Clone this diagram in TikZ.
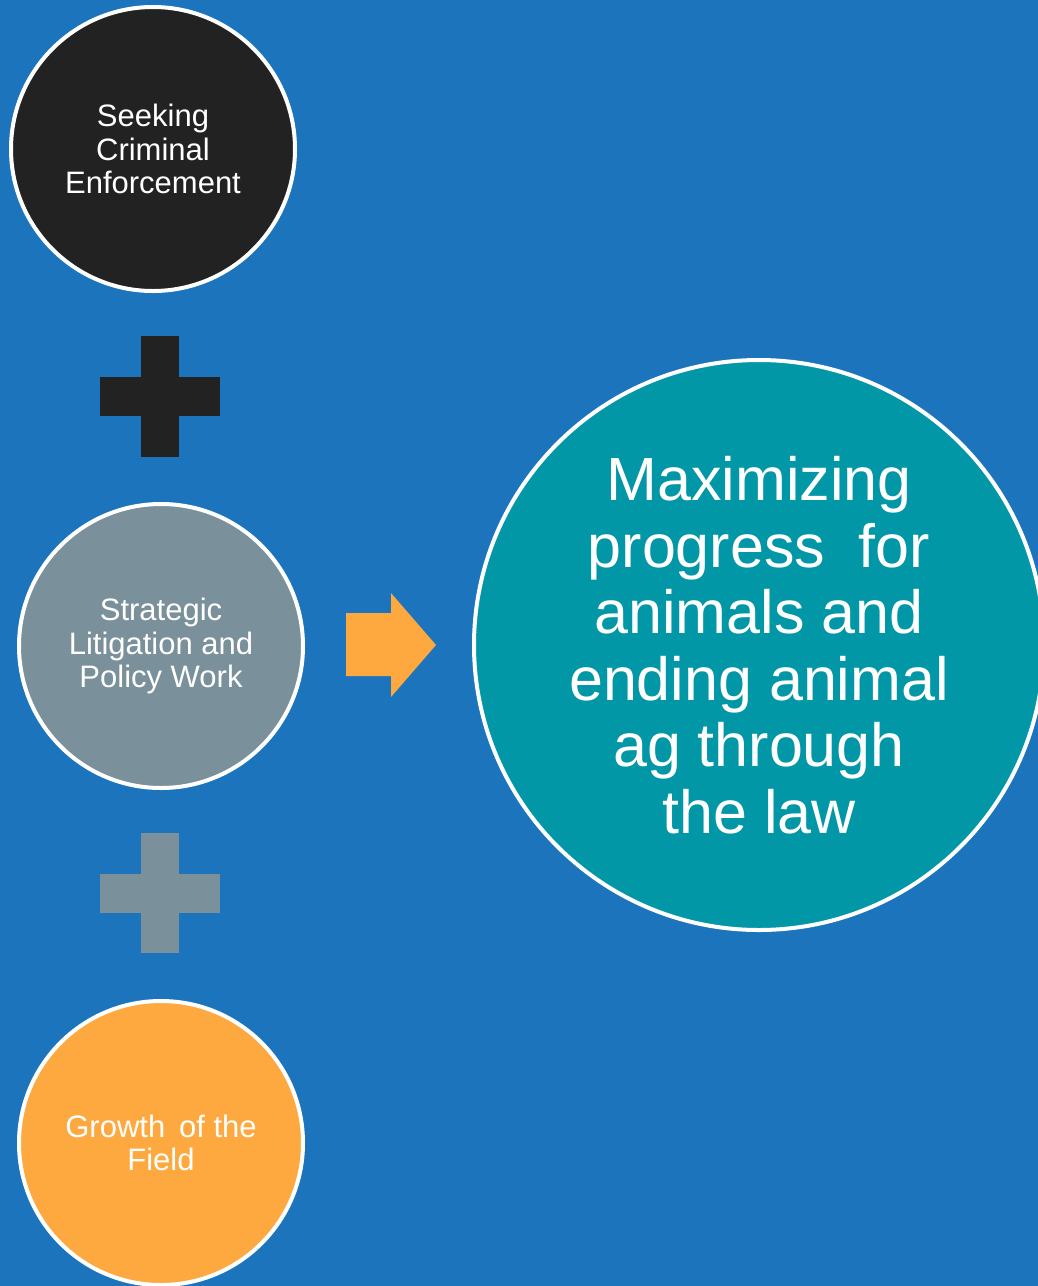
\documentclass[tikz,border=0pt]{standalone}
\usepackage{fontspec}
\setmainfont{Liberation Sans}
\definecolor{bgblue}{HTML}{1C75BC}
\definecolor{darkc}{HTML}{222222}
\definecolor{grayc}{HTML}{7A909A}
\definecolor{orangec}{HTML}{FDA940}
\definecolor{tealc}{HTML}{0297A7}
\tikzset{
  smallcirc/.style={circle, draw=white, line width=4pt, minimum size=284pt, inner sep=0pt,
    text=white, align=center, font=\fontsize{31}{33.5}\selectfont},
  bigcirc/.style={circle, draw=white, line width=4pt, minimum size=570pt, inner sep=0pt,
    text=white, align=center, font=\fontsize{61}{66.5}\selectfont},
}
\begin{document}
\begin{tikzpicture}[x=1pt,y=-1pt]
\useasboundingbox (0,0) rectangle (1038,1286);
\fill[bgblue] (0,0) rectangle (1038,1286);
% nodes
\node[smallcirc, fill=darkc] (crim) at (153,149) {Seeking\\Criminal\\Enforcement};
\node[smallcirc, fill=grayc] (lit) at (161,646) {Strategic\\Litigation and\\Policy Work};
\node[smallcirc, fill=orangec] (growth) at (161,1143) {Growth\ \,of the\\Field};
\node[bigcirc, fill=tealc] (goal) at (759,645) {Maximizing\\progress\ \ for\\animals and\\ending animal\\ag through\\the law};
% plus signs
\fill[darkc] (141,336) rectangle (179,457);
\fill[darkc] (100,377) rectangle (220,416);
\fill[grayc] (141,833) rectangle (179,953);
\fill[grayc] (100,874) rectangle (220,913);
% arrow
\fill[orangec] (346,613) -- (391,613) -- (391,593) -- (436,645) -- (391,697) -- (391,676) -- (346,676) -- cycle;
\end{tikzpicture}
\end{document}
